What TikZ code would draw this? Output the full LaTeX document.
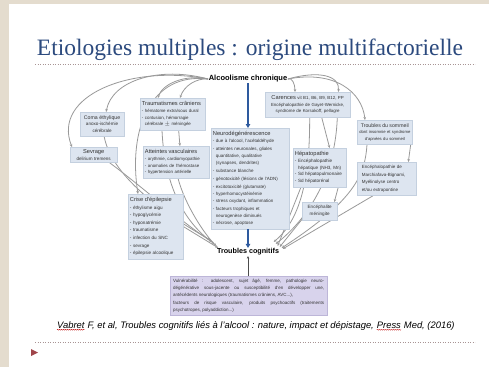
\documentclass[tikz,border=0pt]{standalone}
\usepackage{fontspec}
\setmainfont{Liberation Sans}
\newfontfamily\titlefont{Liberation Serif}
\usetikzlibrary{arrows.meta,shadows,calc,decorations.pathmorphing}
\definecolor{slidebeige}{HTML}{E4DCCE}
\definecolor{titleblue}{HTML}{2C4A7E}
\definecolor{boxfill}{HTML}{DDE5F0}
\definecolor{boxline}{HTML}{C4D0DF}
\definecolor{vulnfill}{HTML}{D8D3EC}
\definecolor{vulnline}{HTML}{BDB6D8}
\definecolor{linkgrey}{HTML}{999999}
\definecolor{mainblue}{HTML}{2E5A9E}
\definecolor{rulegrey}{HTML}{A89494}
\definecolor{bulletred}{HTML}{A0454A}
\pgfdeclarelayer{slide}
\pgfdeclarelayer{links}
\pgfsetlayers{slide,links,main}
\newcommand\boxhead[1]{{\fontsize{5.7}{7.6}\selectfont #1}\\}
\newcommand\smallhead[1]{{\fontsize{5.2}{7.4}\selectfont #1}\\}
\tikzset{
  cause/.style={fill=boxfill, draw=boxline, line width=0.3pt, inner xsep=1.8pt,
    inner ysep=3.2pt, align=left, font=\fontsize{4.6}{6.8}\selectfont, text=black!80,
    anchor=north west,
    drop shadow={opacity=0.18, shadow xshift=0.7pt, shadow yshift=-0.7pt}},
  causec/.style={cause, align=center},
  link/.style={draw=linkgrey, line width=0.8pt, -{Stealth[length=3pt,width=2.6pt]}},
  bigarrow/.style={draw=mainblue, line width=1.6pt, -{Triangle[length=4pt,width=4.5pt]}},
  keyword/.style={font=\bfseries\fontsize{7.5}{9}\selectfont, inner sep=0.5pt},
  cite/.style={font=\itshape\fontsize{9.4}{11}\selectfont, inner sep=0pt, anchor=base west},
  spell/.style={draw=red!75!black, line width=0.35pt,
    decorate, decoration={snake, amplitude=0.45pt, segment length=2pt}},
  rule/.style={draw=rulegrey, line width=0.5pt, dotted}
}
\begin{document}
\begin{tikzpicture}[x=1pt,y=-1pt]
% slide background and frame
\begin{pgfonlayer}{slide}
  \fill[white] (0,0) rectangle (489,367);
  \fill[slidebeige] (0,0) rectangle (9,367);
  \fill[slidebeige] (0,0) rectangle (489,4);
\end{pgfonlayer}
\useasboundingbox (0,0) rectangle (489,367);

% title
\node[font=\titlefont\fontsize{23.5}{27}\selectfont, text=titleblue, inner sep=0pt]
  (title) at (250,50) {Etiologies multiples : origine multifactorielle};
\coordinate (r1a) at (35,64);
\coordinate (r1b) at (475,64);
\draw[rule] (r1a) -- (r1b);

% central chain
\node[keyword] (al) at (248,79) {Alcoolisme chronique};
\node[keyword, font=\bfseries\fontsize{7.2}{8}\selectfont] (tc) at (248,252) {Troubles cognitifs};

% cause boxes
\node[causec, text width=41.5pt, inner xsep=1.2pt] (coma) at (80,112)
  {\smallhead{Coma éthylique}anoxo-ischémie\\cérébrale};
\node[causec, text width=43.4pt, inner ysep=2.2pt] (sev) at (70,147)
  {\boxhead{Sevrage}delirium tremens};
\node[cause, text width=61.4pt, font=\fontsize{4.4}{6.8}\selectfont] (trau) at (140,98)
  {\boxhead{Traumatismes crâniens}- hématome extra/sous dural\\- contusion, hémorragie\\\ \ cérébrale $\pm$ méningée};
\node[cause, text width=62pt, font=\fontsize{4.4}{6.8}\selectfont] (vasc) at (143,146)
  {\boxhead{Atteintes vasculaires}- arythmie, cardiomyopathie\\- anomalies de l'hémostase\\- hypertension artérielle};
\node[cause, text width=51.4pt, font=\fontsize{4.6}{7.6}\selectfont] (crise) at (128,194)
  {\boxhead{Crise d'épilepsie}- éthylisme aigu\\- hypoglycémie\\- hyponatrémie\\- traumatisme\\- infection du SNC\\- sevrage\\- épilepsie alcoolique};
\node[cause, text width=74.4pt, font=\fontsize{4.5}{7.3}\selectfont] (neuro) at (211,128)
  {\boxhead{Neurodégénérescence}- due à l'alcool, l'acétaldéhyde\\- atteintes neuronales, gliales\\\ \ quantitative, qualitative\\\ \ (synapses, dendrites)\\- substance blanche\\[1.5pt]- génotoxicité (lésions de l'ADN)\\- excitotoxicité (glutamate)\\- hyperhomocystéinémie\\- stress oxydant, inflammation\\- facteurs trophiques et\\\ \ neurogenèse diminués\\- nécrose, apoptose};
\node[causec, text width=81.4pt, font=\fontsize{4.4}{6.8}\selectfont] (car) at (265,92)
  {{\fontsize{5.7}{7.2}\selectfont Carences} vit B1, B6, B9, B12, PP\\Encéphalopathie de Gayet-Wernicke,\\syndrome de Korsakoff, pellagre};
\node[causec, text width=53pt, inner xsep=1.2pt, font=\fontsize{4.2}{6.6}\selectfont] (som) at (357,120)
  {\smallhead{Troubles du sommeil}dont insomnie et syndrome\\d'apnées du sommeil};
\node[cause, text width=49.4pt] (hep) at (293,148)
  {\boxhead{Hépatopathie}- Encéphalopathie\\\ \ hépatique (NH3, Mn)\\- Sd hépatopulmonaire\\- Sd hépatorénal};
\node[cause, text width=55.4pt, font=\fontsize{4.5}{7.6}\selectfont] (mar) at (357,162)
  {\ \ Encéphalopathie de\\\ \ Marchiafava-Bignami,\\\ \ Myélinolyse centro\\\ \ et/ou extrapontine};
\node[causec, text width=31.4pt] (enc) at (302,202)
  {Encéphalite\\méningite};
\node[cause, fill=vulnfill, draw=vulnline, text width=151pt, inner sep=3pt,
      align=justify, font=\fontsize{4.5}{7.2}\selectfont] (vul) at (170,276)
  {Vulnérabilité : adolescent, sujet âgé, femme, pathologie neuro-\linebreak
   dégénérative sous-jacente ou susceptibilité d'en développer une,\linebreak
   antécédents neurologiques (traumatismes crâniens, AVC...),\newline
   facteurs de risque vasculaire, produits psychoactifs (traitements\linebreak
   psychotropes, polyaddiction...)};

% main causal arrows
\draw[bigarrow] (al.south) -- (al.south |- neuro.north);
\draw[bigarrow] (al.south |- neuro.south) -- (tc.north);
\draw[-{Stealth[length=2.6pt,width=2.4pt]}, line width=0.5pt, black!70] (al.south |- vul.north) -- (tc.south);

% grey connectors, kept behind the boxes
\begin{pgfonlayer}{links}
  % from chronic alcoholism to the left-hand causes
  \draw[link] (al.west) .. controls (130,64) and (52,96) .. ($(sev.north west)+(2,0)$);
  \draw[link] (al.west) .. controls (160,66) and (112,80) .. ($(coma.north)+(4,0)$);
  \draw[link] (al.west) .. controls (150,72) and (128,130) .. ($(crise.north west)+(10,0)$);
  \draw[link] (al.west) .. controls (185,74) and (162,84) .. ($(trau.north west)+(18,0)$);
  \draw[link] (al.west) .. controls (196,78) and (184,86) .. ($(trau.north west)+(40,0)$);
  % from chronic alcoholism to the right-hand causes
  \draw[link] (al.east) .. controls (292,77) and (295,84) .. ($(car.north west)+(30,0)$);
  \draw[link] (al.east) .. controls (320,70) and (340,76) .. ($(car.north east)+(-12,0)$);
  \draw[link] (al.east) .. controls (335,70) and (362,92) .. ($(som.north west)+(8,0)$);
  % links between causes
  \draw[link] ($(trau.south)+(6,0)$) -- ($(vasc.north)+(4,0)$);
  \draw[link] ($(car.south)+(14,0)$) -- ($(hep.north)+(10,0)$);
  \draw[link] ($(som.south east)+(-2,0)$) -- ($(mar.north east)+(-8,0)$);
  \draw[link] ($(hep.south east)+(-8,0)$) -- ($(enc.north east)+(-3,0)$);
  % left-hand causes towards cognitive disorders
  \draw[link] ($(coma.south)+(2,0)$) .. controls (112,180) and (175,220) .. ($(tc.north west)+(-6,-8)$);
  \draw[link] ($(sev.south east)+(-8,0)$) .. controls (140,185) and (185,225) .. ($(tc.north west)+(-4,-6)$);
  \draw[link] ($(trau.south west)+(22,0)$) .. controls (165,200) and (195,230) .. ($(tc.north west)+(-2,-4)$);
  \draw[link] ($(vasc.south)+(2,0)$) .. controls (185,205) and (205,235) .. ($(tc.north west)+(0,-2)$);
  \draw[link] (crise.east) -- ($(tc.north west)+(2,0)$);
  % right-hand causes towards cognitive disorders
  \draw[link] ($(car.south)+(2,0)$) .. controls (310,180) and (300,220) .. ($(tc.north east)+(-6,-6)$);
  \draw[link] ($(car.south east)+(-13,0)$) .. controls (335,185) and (300,225) .. ($(tc.north east)+(-4,-4)$);
  \draw[link] ($(hep.south west)+(8,0)$) -- ($(tc.north east)+(-2,-2)$);
  \draw[link] ($(enc.south west)+(2,-3)$) -- ($(tc.north east)+(0,-1)$);
  \draw[link] ($(som.south west)+(10,0)$) .. controls (365,175) and (355,200) .. ($(tc.north east)+(2,0)$);
  \draw[link] ($(mar.south west)+(16,0)$) -- ($(tc.north east)+(3,1)$);
\end{pgfonlayer}

% reference line
\node[cite] (c1) at (57,328) {Vabret};
\node[cite] (c2) at (c1.base east) {\ F, et al, Troubles cognitifs liés à l'alcool : nature, impact et dépistage,\ \null};
\node[cite] (c3) at (c2.base east) {Press};
\node[cite] (c4) at (c3.base east) {\ Med, (2016)};
\draw[spell] ($(c1.base west)+(0,1.8)$) -- ($(c1.base east)+(0,1.8)$);
\draw[spell] ($(c3.base west)+(0,1.8)$) -- ($(c3.base east)+(0,1.8)$);
\coordinate (r2a) at (35,342);
\coordinate (r2b) at (475,342);
\draw[rule] (r2a) -- (r2b);

% bullet marker
\fill[bulletred] (31,349) -- (38,352.5) -- (31,356) -- cycle;
\end{tikzpicture}
\end{document}
